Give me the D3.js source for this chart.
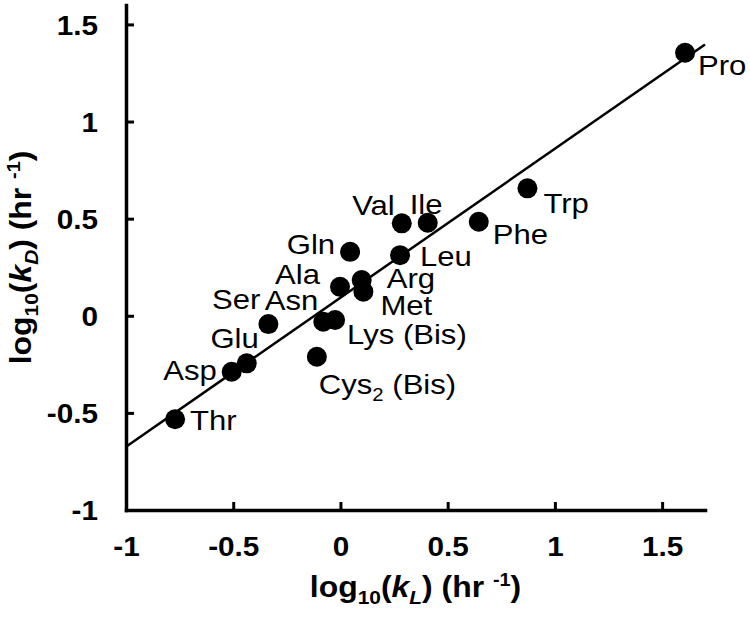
<!DOCTYPE html>
<html>
<head>
<meta charset="utf-8">
<script src="https://cdn.jsdelivr.net/npm/d3@7"></script>
<style>
  html, body { margin: 0; padding: 0; background: #fff; }
  svg { display: block; font-family: "Liberation Sans", Arial, sans-serif; }
</style>
</head>
<body>
<svg id="chart" width="750" height="621"></svg>
<script>
// ---- data ----
const aminoAcids = ["Pro", "Trp", "Phe", "Val", "Ile", "Leu", "Gln", "Arg", "Ala", "Met",
                    "Asn", "Lys (Bis)", "Ser", "Glu", "Asp", "Cys2 (Bis)", "Thr"];
const logKL = [1.607, 0.872, 0.645, 0.286, 0.407, 0.278, 0.045, 0.099, -0.002, 0.107,
               -0.080, -0.025, -0.336, -0.437, -0.507, -0.110, -0.771];
const logKD = [1.354, 0.656, 0.484, 0.476, 0.479, 0.312, 0.329, 0.184, 0.149, 0.124,
               -0.031, -0.022, -0.043, -0.245, -0.288, -0.211, -0.533];
const fitSlope = 0.767;
const fitIntercept = 0.093;
const xTicks = [-1, -0.5, 0, 0.5, 1, 1.5];
const xTickLabels = ["-1", "-0.5", "0", "0.5", "1", "1.5"];
const yTicks = [-1, -0.5, 0, 0.5, 1, 1.5];
const yTickLabels = ["-1", "-0.5", "0", "0.5", "1", "1.5"];
const xDomain = [-1, 1.7];
const yDomain = [-1, 1.6];

// ---- label placement (layout only) ----
const labelPlacement = {
  "Pro": ["start", 13, 22], "Trp": ["start", 16, 25], "Phe": ["start", 14, 22],
  "Val": ["end", -7, -8], "Ile": ["start", -18, -9], "Leu": ["start", 20, 11],
  "Gln": ["end", -15, 2], "Arg": ["start", 25, 8], "Ala": ["end", -20, -3],
  "Met": ["start", 17, 23], "Asn": ["end", -5, -12], "Lys (Bis)": ["start", 12, 24],
  "Ser": ["end", -8, -15], "Glu": ["end", 12, -15], "Asp": ["end", -15, 8],
  "Cys2 (Bis)": ["start", 2, 37], "Thr": ["start", 15, 11]
};

const SX = 1.1; // horizontal glyph stretch
const svg = d3.select("#chart");
const x = d3.scaleLinear().domain(xDomain).range([126, 705]);
const y = d3.scaleLinear().domain(yDomain).range([510, 5]);

// fit line
svg.append("line")
  .attr("x1", x(xDomain[0])).attr("y1", y(fitSlope * xDomain[0] + fitIntercept))
  .attr("x2", x(xDomain[1])).attr("y2", y(fitSlope * xDomain[1] + fitIntercept))
  .attr("stroke", "#000").attr("stroke-width", 2.5);

// axes
const xAxis = d3.axisBottom(x).tickValues(xTicks)
  .tickFormat((d, i) => xTickLabels[i]).tickSizeInner(-8).tickSizeOuter(0);
const yAxis = d3.axisLeft(y).tickValues(yTicks)
  .tickFormat((d, i) => yTickLabels[i]).tickSizeInner(-8).tickSizeOuter(0);

const gx = svg.append("g").attr("transform", `translate(0,${y(-1)})`).call(xAxis);
const gy = svg.append("g").attr("transform", `translate(${x(-1)},0)`).call(yAxis);

[gx, gy].forEach(g => {
  g.select(".domain").attr("stroke", "#000").attr("stroke-width", 3.5).attr("stroke-linecap", "square");
  g.selectAll(".tick line").attr("stroke", "#000").attr("stroke-width", 3);
  g.selectAll(".tick text")
    .attr("fill", "#000").attr("font-size", 27).attr("font-weight", "bold")
    .attr("font-family", "Liberation Sans, Arial, sans-serif")
    .attr("x", null).attr("y", null).attr("dy", null);
});
gx.selectAll(".tick text").attr("transform", `translate(0,46) scale(${SX},1)`);
gy.selectAll(".tick text").attr("transform", `translate(-28,9.7) scale(${SX},1)`);

// points
svg.append("g").selectAll("circle")
  .data(aminoAcids.map((n, i) => ({ n, kx: logKL[i], ky: logKD[i] })))
  .join("circle")
  .attr("cx", d => x(d.kx)).attr("cy", d => y(d.ky)).attr("r", 10).attr("fill", "#000");

// labels
const LSX = 1.13;
const lg = svg.append("g").attr("font-size", 27.5).attr("fill", "#000");
aminoAcids.forEach((n, i) => {
  const [anchor, dx, dy] = labelPlacement[n];
  const t = lg.append("text")
    .attr("text-anchor", anchor)
    .attr("transform", `translate(${x(logKL[i]) + dx},${y(logKD[i]) + dy}) scale(${LSX},1)`);
  const m = n.match(/^([A-Za-z]+)(\d)(.*)$/);
  if (m) {
    t.append("tspan").text(m[1]);
    t.append("tspan").attr("font-size", 18).attr("dy", 7).text(m[2]);
    t.append("tspan").attr("dy", -7).text(m[3]);
  } else {
    t.text(n);
  }
});

// axis titles
function title(el, letter) {
  el.append("tspan").text("log");
  el.append("tspan").attr("font-size", 19).attr("dy", 7).text("10");
  el.append("tspan").attr("dy", -7).text("(");
  el.append("tspan").attr("font-style", "italic").text("k");
  el.append("tspan").attr("font-style", "italic").attr("font-size", 19).attr("dy", 7).text(letter);
  el.append("tspan").attr("dy", -7).text(") (hr ");
  el.append("tspan").attr("font-size", 18).attr("dy", -11).text("-1");
  el.append("tspan").attr("dy", 11).text(")");
}
const xt = svg.append("text").attr("font-size", 29).attr("font-weight", "bold")
  .attr("text-anchor", "middle")
  .attr("transform", `translate(${(x(xDomain[0]) + x(xDomain[1])) / 2},597) scale(${SX},1)`);
title(xt, "L");
const yt = svg.append("text").attr("font-size", 29).attr("font-weight", "bold")
  .attr("text-anchor", "middle")
  .attr("transform", `translate(31,${(y(yDomain[0]) + y(yDomain[1])) / 2}) rotate(-90) scale(${SX},1)`);
title(yt, "D");
</script>
</body>
</html>
